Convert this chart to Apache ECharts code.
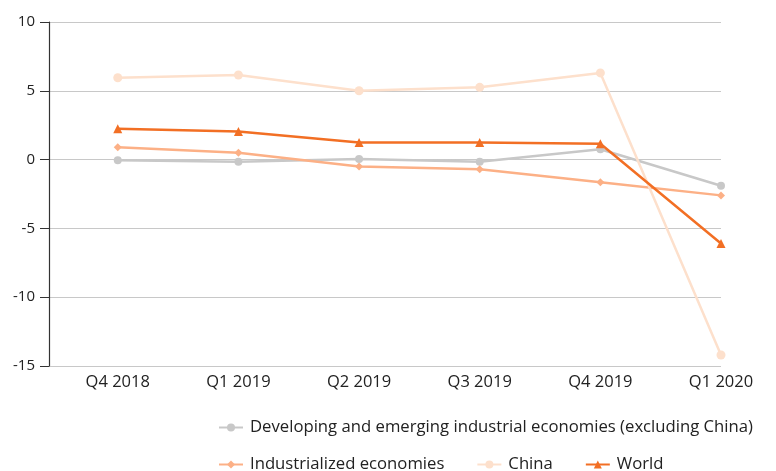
<!DOCTYPE html>
<html>
<head>
<meta charset="utf-8">
<script src="https://cdn.jsdelivr.net/npm/echarts@6/dist/echarts.min.js"></script>
<style>html,body{margin:0;padding:0;background:#fff}#c{width:776px;height:471px}</style>
</head>
<body>
<div id="c"></div>
<script>
var categories = ['Q4 2018', 'Q1 2019', 'Q2 2019', 'Q3 2019', 'Q4 2019', 'Q1 2020'];
var developing = [-0.05, -0.15, 0.05, -0.15, 0.75, -1.9];
var industrialized = [0.9, 0.5, -0.5, -0.7, -1.65, -2.6];
var china = [5.95, 6.15, 5.0, 5.25, 6.3, -14.2];
var world = [2.25, 2.05, 1.25, 1.25, 1.15, -6.1];
var yTicks = [-15, -10, -5, 0, 5, 10];

function pts(arr) { return arr.map(function (v, i) { return [i, v]; }); }
var font = '"Open Sans", Lato, sans-serif';
var legText = { color: '#222', fontSize: 16.7, fontFamily: font, padding: [0, 0, 0, 2] };
var chart = echarts.init(document.getElementById('c'), null, { renderer: 'canvas' });
chart.setOption({
  animation: false,
  grid: { left: 49, right: 55, top: 22, bottom: 105, containLabel: false },
  xAxis: {
    type: 'value', min: -0.57, max: 5,
    axisLine: { show: false }, axisTick: { show: false }, splitLine: { show: false },
    axisLabel: {
      customValues: [0, 1, 2, 3, 4, 5],
      formatter: function (v) { return categories[Math.round(v)] || ''; },
      color: '#222', fontSize: 16.5, fontFamily: font, margin: 8
    }
  },
  yAxis: {
    type: 'value', min: -15, max: 10, interval: 5,
    axisLine: { show: true, onZero: false, lineStyle: { color: '#333', width: 1.2 } },
    axisTick: { show: true, length: 9, lineStyle: { color: '#333' } },
    splitLine: { show: true, lineStyle: { color: '#c8c8c8', width: 1 } },
    axisLabel: { color: '#222', fontSize: 15, fontFamily: font, margin: 14,
      formatter: function (v) { return yTicks.indexOf(v) >= 0 ? String(v) : ''; } }
  },
  legend: [
    { data: ['Developing and emerging industrial economies (excluding China)'], left: 213, top: 414,
      itemWidth: 24, itemHeight: 10, itemGap: 32, textStyle: legText },
    { data: ['Industrialized economies', 'China', 'World'], left: 213, top: 451,
      itemWidth: 24, itemHeight: 10, itemGap: 32, textStyle: legText }
  ],
  series: [
    { name: 'Developing and emerging industrial economies (excluding China)', type: 'line', data: pts(developing),
      symbol: 'circle', symbolSize: 8, lineStyle: { width: 2.5, color: '#c8c8c8' }, itemStyle: { color: '#c8c8c8' } },
    { name: 'Industrialized economies', type: 'line', data: pts(industrialized),
      symbol: 'diamond', symbolSize: 8, lineStyle: { width: 2.5, color: '#fcb086' }, itemStyle: { color: '#fcb086' } },
    { name: 'China', type: 'line', data: pts(china),
      symbol: 'circle', symbolSize: 9, lineStyle: { width: 2.5, color: '#fde0cc' }, itemStyle: { color: '#fde0cc' } },
    { name: 'World', type: 'line', data: pts(world),
      symbol: 'triangle', symbolSize: 9, lineStyle: { width: 2.5, color: '#f26f24' }, itemStyle: { color: '#f26f24' } }
  ]
});
</script>
</body>
</html>
